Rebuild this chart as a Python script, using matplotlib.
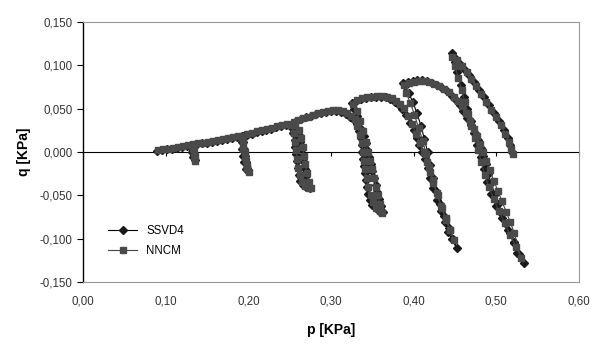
import matplotlib.pyplot as plt
from matplotlib.ticker import FuncFormatter

# SSVD4 stress path (p, q)
ssvd4_p = [0.090, 0.096, 0.102, 0.108, 0.114, 0.120, 0.126, 0.132,
           0.133, 0.134, 0.135, 0.133, 0.132, 0.132,
           0.138, 0.144, 0.150, 0.156, 0.162, 0.168, 0.174, 0.180, 0.186, 0.192,
           0.193, 0.195, 0.196, 0.197, 0.198, 0.200, 0.197, 0.195, 0.193, 0.192, 0.192, 0.193,
           0.198, 0.204, 0.210, 0.216, 0.222, 0.228, 0.234, 0.240, 0.246, 0.252,
           0.254, 0.256, 0.257, 0.258, 0.259, 0.260, 0.261, 0.263, 0.266, 0.270, 0.275,
           0.272, 0.270, 0.268, 0.267, 0.266, 0.265, 0.263, 0.261, 0.258, 0.254,
           0.258, 0.264, 0.270, 0.276, 0.282, 0.288, 0.294, 0.300, 0.306, 0.312, 0.318, 0.323, 0.328,
           0.331, 0.334, 0.336, 0.337, 0.338, 0.339, 0.340, 0.341, 0.342, 0.343, 0.345, 0.347, 0.350, 0.354, 0.358, 0.363,
           0.360, 0.358, 0.356, 0.354, 0.352, 0.350, 0.348, 0.346, 0.344, 0.342, 0.340, 0.337, 0.334, 0.331, 0.328, 0.325,
           0.330, 0.336, 0.342, 0.348, 0.354, 0.360, 0.366, 0.372, 0.377, 0.382, 0.386,
           0.391, 0.396, 0.400, 0.404, 0.407, 0.410, 0.414, 0.417, 0.420, 0.424, 0.428, 0.433, 0.438, 0.442, 0.446, 0.452,
           0.448, 0.443, 0.437, 0.432, 0.427, 0.423, 0.420, 0.417, 0.413, 0.409, 0.404, 0.399, 0.394, 0.389, 0.387,
           0.393, 0.399, 0.404, 0.410, 0.416, 0.422, 0.428, 0.434, 0.440, 0.446, 0.451, 0.456,
           0.460, 0.465, 0.470, 0.474, 0.478, 0.481, 0.484, 0.487, 0.490, 0.494, 0.498, 0.502, 0.507, 0.512, 0.517, 0.521, 0.525, 0.533,
           0.528, 0.521, 0.514, 0.507, 0.500, 0.494, 0.489, 0.485, 0.481, 0.477, 0.473, 0.469, 0.465, 0.461, 0.457, 0.453, 0.450, 0.447,
           0.449, 0.455, 0.461, 0.467, 0.473, 0.479, 0.485, 0.491, 0.497, 0.503, 0.509, 0.514, 0.517, 0.519]
ssvd4_q = [0.001, 0.002, 0.003, 0.004, 0.005, 0.006, 0.007, 0.008,
           0.002, -0.004, -0.009, -0.006, 0.000, 0.006,
           0.009, 0.010, 0.011, 0.012, 0.013, 0.014, 0.015, 0.016, 0.017, 0.018,
           0.012, 0.004, -0.004, -0.012, -0.018, -0.022, -0.020, -0.012, -0.004, 0.004, 0.012, 0.018,
           0.020, 0.021, 0.023, 0.024, 0.026, 0.027, 0.029, 0.030, 0.031, 0.029,
           0.022, 0.014, 0.006, -0.002, -0.010, -0.018, -0.026, -0.033, -0.038, -0.040, -0.041,
           -0.036, -0.028, -0.020, -0.012, -0.004, 0.004, 0.012, 0.020, 0.027, 0.033,
           0.036, 0.038, 0.040, 0.042, 0.044, 0.045, 0.046, 0.047, 0.047, 0.046, 0.044, 0.041, 0.037,
           0.032, 0.024, 0.016, 0.008, 0.000, -0.008, -0.016, -0.024, -0.032, -0.040, -0.048, -0.055, -0.061, -0.065, -0.068, -0.069,
           -0.062, -0.054, -0.046, -0.038, -0.030, -0.022, -0.014, -0.006, 0.002, 0.010, 0.018, 0.026, 0.034, 0.042, 0.050, 0.057,
           0.059, 0.061, 0.062, 0.063, 0.064, 0.064, 0.063, 0.061, 0.058, 0.054, 0.050,
           0.043, 0.034, 0.025, 0.016, 0.008, 0.000, -0.008, -0.018, -0.030, -0.042, -0.055, -0.068, -0.081, -0.092, -0.100, -0.111,
           -0.100, -0.088, -0.074, -0.060, -0.045, -0.030, -0.015, 0.000, 0.015, 0.030, 0.045, 0.058, 0.068, 0.076, 0.080,
           0.081, 0.082, 0.083, 0.083, 0.082, 0.080, 0.077, 0.074, 0.070, 0.065, 0.060, 0.054,
           0.047, 0.039, 0.031, 0.022, 0.014, 0.005, -0.004, -0.014, -0.025, -0.036, -0.048, -0.060, -0.071, -0.083, -0.094, -0.105, -0.117, -0.128,
           -0.118, -0.104, -0.090, -0.076, -0.062, -0.048, -0.034, -0.020, -0.006, 0.008, 0.022, 0.036, 0.050, 0.064, 0.078, 0.092, 0.104, 0.114,
           0.110, 0.103, 0.096, 0.089, 0.081, 0.072, 0.063, 0.054, 0.045, 0.036, 0.026, 0.016, 0.008, 0.000]

# NNCM stress path (p, q)
nncm_p = [0.091, 0.097, 0.103, 0.109, 0.115, 0.121, 0.127, 0.133,
          0.134, 0.136, 0.136, 0.134, 0.133,
          0.139, 0.145, 0.151, 0.157, 0.163, 0.169, 0.175, 0.181, 0.187, 0.193,
          0.194, 0.196, 0.197, 0.199, 0.201, 0.199, 0.196, 0.194, 0.194,
          0.199, 0.205, 0.211, 0.217, 0.223, 0.229, 0.235, 0.241, 0.247, 0.252,
          0.255, 0.257, 0.258, 0.259, 0.260, 0.262, 0.265, 0.269, 0.273, 0.276,
          0.273, 0.271, 0.269, 0.267, 0.266, 0.264, 0.261, 0.257, 0.255,
          0.260, 0.266, 0.272, 0.278, 0.284, 0.290, 0.296, 0.302, 0.308, 0.314, 0.319, 0.324, 0.329,
          0.332, 0.335, 0.337, 0.339, 0.340, 0.341, 0.343, 0.345, 0.348, 0.351, 0.355, 0.359, 0.362,
          0.359, 0.357, 0.355, 0.352, 0.350, 0.347, 0.345, 0.342, 0.339, 0.335, 0.331, 0.327,
          0.332, 0.338, 0.344, 0.350, 0.356, 0.362, 0.368, 0.374, 0.379, 0.384, 0.388,
          0.393, 0.398, 0.403, 0.408, 0.412, 0.416, 0.420, 0.424, 0.429, 0.434, 0.439, 0.444, 0.449,
          0.444, 0.439, 0.433, 0.428, 0.423, 0.419, 0.415, 0.411, 0.406, 0.401, 0.396, 0.391, 0.388,
          0.395, 0.401, 0.407, 0.413, 0.419, 0.425, 0.431, 0.437, 0.443, 0.449, 0.454, 0.458,
          0.463, 0.468, 0.473, 0.477, 0.480, 0.484, 0.488, 0.492, 0.497, 0.502, 0.507, 0.512, 0.517, 0.522, 0.530,
          0.524, 0.517, 0.510, 0.503, 0.497, 0.491, 0.486, 0.482, 0.478, 0.474, 0.470, 0.466, 0.462, 0.458, 0.454, 0.450, 0.447,
          0.452, 0.458, 0.464, 0.470, 0.476, 0.482, 0.488, 0.494, 0.500, 0.506, 0.511, 0.515, 0.518, 0.520]
nncm_q = [0.002, 0.003, 0.004, 0.005, 0.006, 0.007, 0.008, 0.009,
          0.002, -0.005, -0.010, -0.004, 0.004,
          0.010, 0.011, 0.012, 0.013, 0.014, 0.015, 0.016, 0.017, 0.018, 0.019,
          0.010, 0.000, -0.010, -0.018, -0.023, -0.016, -0.006, 0.004, 0.014,
          0.021, 0.022, 0.024, 0.025, 0.027, 0.028, 0.030, 0.031, 0.032, 0.031,
          0.022, 0.012, 0.002, -0.008, -0.018, -0.027, -0.034, -0.039, -0.041, -0.042,
          -0.034, -0.024, -0.014, -0.004, 0.006, 0.016, 0.025, 0.031, 0.035,
          0.037, 0.039, 0.041, 0.043, 0.045, 0.046, 0.047, 0.048, 0.048, 0.047, 0.045, 0.042, 0.038,
          0.030, 0.020, 0.010, 0.000, -0.010, -0.020, -0.030, -0.040, -0.050, -0.058, -0.064, -0.068, -0.070,
          -0.060, -0.050, -0.040, -0.030, -0.020, -0.010, 0.000, 0.012, 0.024, 0.036, 0.047, 0.056,
          0.060, 0.062, 0.063, 0.064, 0.065, 0.065, 0.064, 0.062, 0.059, 0.055, 0.051,
          0.042, 0.032, 0.021, 0.010, 0.000, -0.011, -0.023, -0.036, -0.050, -0.064, -0.078, -0.090, -0.102,
          -0.090, -0.076, -0.062, -0.047, -0.032, -0.017, -0.002, 0.013, 0.028, 0.043, 0.057, 0.068, 0.077,
          0.080, 0.081, 0.082, 0.082, 0.081, 0.079, 0.076, 0.073, 0.069, 0.064, 0.059, 0.053,
          0.045, 0.036, 0.027, 0.018, 0.009, 0.000, -0.010, -0.021, -0.033, -0.045, -0.057, -0.069, -0.081, -0.094, -0.122,
          -0.110, -0.096, -0.082, -0.068, -0.054, -0.040, -0.026, -0.012, 0.002, 0.016, 0.030, 0.044, 0.058, 0.072, 0.086, 0.099, 0.110,
          0.106, 0.099, 0.092, 0.084, 0.076, 0.067, 0.058, 0.049, 0.040, 0.031, 0.021, 0.012, 0.004, -0.002]

x_ticks = [0.0, 0.1, 0.2, 0.3, 0.4, 0.5, 0.6]
y_ticks = [-0.15, -0.10, -0.05, 0.0, 0.05, 0.10, 0.15]

plt.rcParams['font.family'] = ['Liberation Sans', 'DejaVu Sans']

fig = plt.figure(figsize=(5.95, 3.46), dpi=100)
ax = fig.add_axes([0.1395, 0.185, 0.8335, 0.751])

ax.plot(ssvd4_p, ssvd4_q, color='black', lw=0.8, marker='D', ms=4.2,
        mfc='#1a1a1a', mec='#1a1a1a', label='SSVD4', zorder=3)
ax.plot(nncm_p, nncm_q, color='#444444', lw=0.8, marker='s', ms=3.8,
        mfc='#4a4a4a', mec='#4a4a4a', label='NNCM', zorder=4)

ax.set_xlim(0, 0.6)
ax.set_ylim(-0.15, 0.15)
ax.set_xticks(x_ticks)
ax.set_yticks(y_ticks)
ax.xaxis.set_major_formatter(FuncFormatter(lambda v, pos: f'{v:.2f}'.replace('.', ',')))
ax.yaxis.set_major_formatter(FuncFormatter(lambda v, pos: f'{v:.3f}'.replace('.', ',')))
ax.tick_params(axis='x', length=0, pad=10, labelsize=8.3, labelcolor='#333333')
ax.tick_params(axis='y', direction='out', length=4, width=0.8, labelsize=8.3, labelcolor='#333333')

for s in ['top', 'right', 'bottom']:
    ax.spines[s].set_color('#999999')
    ax.spines[s].set_linewidth(0.8)
ax.spines['left'].set_color('black')
ax.spines['left'].set_linewidth(1.0)

# horizontal axis crossing at q = 0
zero_axis = ax.secondary_xaxis(0.5)
zero_axis.set_xticks(x_ticks)
zero_axis.tick_params(direction='out', length=3, width=0.8, labelbottom=False, labeltop=False)
zero_axis.xaxis.set_ticks_position('bottom')
zero_axis.spines['bottom'].set_color('black')
zero_axis.spines['bottom'].set_linewidth(1.0)
zero_axis.set_xticklabels([])

ax.set_xlabel('p [KPa]', fontsize=10, fontweight='bold', labelpad=11)
ax.set_ylabel('q [KPa]', fontsize=10, fontweight='bold', labelpad=6)

ax.legend(loc='lower left', bbox_to_anchor=(0.035, 0.065), frameon=False,
          fontsize=8.3, handlelength=2.5, labelspacing=0.7, borderpad=0.2)

fig.savefig('out.png', dpi=100)
